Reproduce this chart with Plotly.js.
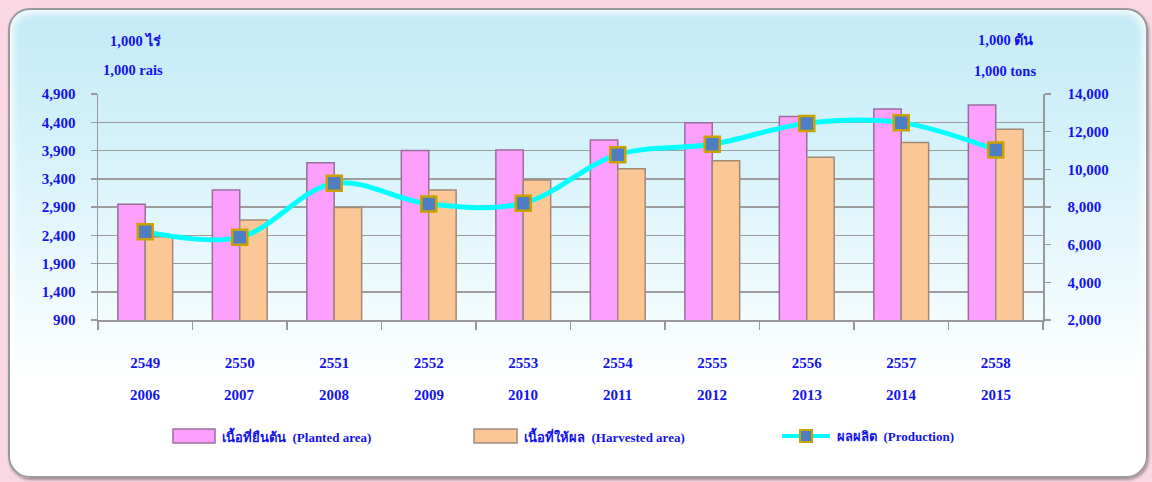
<!DOCTYPE html>
<html>
<head>
<meta charset="utf-8">
<script src="https://cdn.plot.ly/plotly-3.0.1.min.js"></script>
<style>
  html, body { margin:0; padding:0; width:1152px; height:482px; overflow:hidden; background:#f9d8e3; }
  #panel { position:absolute; left:8px; top:8px; width:1136px; height:466px; border-radius:22px;
           border:2px solid #9a9a9a;
           background:linear-gradient(to bottom, #c4eaf6 0%, #d6f2fa 30%, #eefafd 60%, #ffffff 80%, #ffffff 100%);
           box-shadow: inset 0 0 8px 3px rgba(255,255,255,0.95), 1px 2px 3px rgba(0,0,0,0.35); }
  #chart { position:absolute; left:0; top:0; width:1152px; height:482px; }
</style>
</head>
<body>
<div id="panel"></div>
<div id="chart"></div>
<script>
// ---- data ----
const yearsBE = ["2549","2550","2551","2552","2553","2554","2555","2556","2557","2558"];
const yearsAD = ["2006","2007","2008","2009","2010","2011","2012","2013","2014","2015"];
const plantedArea   = [2950, 3200, 3685, 3900, 3910, 4085, 4390, 4500, 4635, 4705];
const harvestedArea = [2375, 2670, 2890, 3200, 3380, 3575, 3720, 3780, 4040, 4275];
const production    = [6690, 6390, 9260, 8160, 8200, 10780, 11330, 12440, 12480, 11030];
const leftTicks  = [900, 1400, 1900, 2400, 2900, 3400, 3900, 4400, 4900];
const rightTicks = [2000, 4000, 6000, 8000, 10000, 12000, 14000];
const seriesNames = ["เนื้อที่ยืนต้น  (Planted area)", "เนื้อที่ให้ผล  (Harvested area)", "ผลผลิต  (Production)"];
const unitLeft  = ["1,000 ไร่", "1,000 rais"];
const unitRight = ["1,000 ตัน", "1,000 tons"];

// ---- styling ----
const BLUE = "#1414ee";
const FONT = "'Liberation Serif', 'Times New Roman', serif";
const fmt = v => v.toLocaleString("en-US");
const L = 98, R = 1043, T = 94, B = 320;
const X = px => (px - L) / (R - L);
const Y = py => (B - py) / (B - T);

const PINK = "#fda0fd", PINK_LINE = "#9a6e9a";
const PEACH = "#fcc797", PEACH_LINE = "#a08a76";

const traces = [
  { type:"bar", name:seriesNames[0], x:yearsBE, y:plantedArea,
    marker:{ color:PINK, line:{ color:PINK_LINE, width:1.5 } }, hoverinfo:"y" },
  { type:"bar", name:seriesNames[1], x:yearsBE, y:harvestedArea,
    marker:{ color:PEACH, line:{ color:PEACH_LINE, width:1.5 } }, hoverinfo:"y" },
  { type:"scatter", mode:"lines+markers", name:seriesNames[2], x:yearsBE, y:production, yaxis:"y2",
    line:{ color:"#00ffff", width:5, shape:"spline", smoothing:1 },
    marker:{ symbol:"square", size:15, color:"#4f7fc2", line:{ color:"#c9a200", width:2.5 } } }
];

const annotations = [];
yearsAD.forEach((y, i) => annotations.push({ xref:"x", yref:"paper", x:i, y:Y(395), text:y, showarrow:false,
  xanchor:"center", yanchor:"middle", font:{ family:FONT, size:15, color:BLUE, weight:"bold" } }));
const unitFont = { family:FONT, size:14.5, color:BLUE, weight:"bold" };
annotations.push({ xref:"paper", yref:"paper", x:X(135), y:Y(40), text:unitLeft[0], showarrow:false,
  xanchor:"center", yanchor:"middle", font:unitFont });
annotations.push({ xref:"paper", yref:"paper", x:X(133), y:Y(70), text:unitLeft[1], showarrow:false,
  xanchor:"center", yanchor:"middle", font:unitFont });
annotations.push({ xref:"paper", yref:"paper", x:X(1005), y:Y(40), text:unitRight[0], showarrow:false,
  xanchor:"center", yanchor:"middle", font:unitFont });
annotations.push({ xref:"paper", yref:"paper", x:X(1005), y:Y(71), text:unitRight[1], showarrow:false,
  xanchor:"center", yanchor:"middle", font:unitFont });

// manual legend
const legTextX = [220, 522, 835];
legTextX.forEach((px, i) => annotations.push({ xref:"paper", yref:"paper", x:X(px), y:Y(436), text:seriesNames[i],
  showarrow:false, xanchor:"left", yanchor:"middle", font:{ family:FONT, size:13, color:BLUE, weight:"bold" } }));

const shapes = [
  { type:"rect", xref:"paper", yref:"paper", x0:X(173), x1:X(215), y0:Y(429), y1:Y(443),
    fillcolor:PINK, line:{ color:PINK_LINE, width:1.5 } },
  { type:"rect", xref:"paper", yref:"paper", x0:X(474), x1:X(517), y0:Y(429), y1:Y(443),
    fillcolor:PEACH, line:{ color:PEACH_LINE, width:1.5 } },
  { type:"line", xref:"paper", yref:"paper", x0:X(782), x1:X(830), y0:Y(436), y1:Y(436),
    line:{ color:"#00ffff", width:4 } },
  { type:"rect", xref:"paper", yref:"paper", x0:X(800), x1:X(812), y0:Y(430), y1:Y(442),
    fillcolor:"#4f7fc2", line:{ color:"#c9a200", width:2 } }
];

const layout = {
  width:1152, height:482,
  margin:{ l:L, r:1152-R, t:T, b:482-B, pad:0 },
  paper_bgcolor:"rgba(0,0,0,0)", plot_bgcolor:"rgba(0,0,0,0)",
  showlegend:false,
  barmode:"group", bargap:0.42, bargroupgap:0,
  font:{ family:FONT, color:BLUE },
  xaxis:{ type:"category", range:[-0.5, yearsBE.length - 0.5], autorange:false,
    tickson:"boundaries", ticks:"outside", ticklen:8, tickcolor:"#999", tickwidth:1.5,
    showgrid:false, showline:true, linecolor:"#999", linewidth:1.5, ticklabelstandoff:28,
    tickfont:{ family:FONT, size:15, color:BLUE, weight:"bold" }, fixedrange:true },
  yaxis:{ range:[900, 4900], tickvals:leftTicks, ticktext:leftTicks.map(fmt),
    showgrid:true, gridcolor:"#9c9c9c", gridwidth:1.5, zeroline:false,
    showline:true, linecolor:"#999", linewidth:1.5, ticks:"outside", ticklen:6, tickcolor:"#999", tickwidth:1.5,
    ticklabelstandoff:12, tickfont:{ family:FONT, size:15, color:BLUE, weight:"bold" }, fixedrange:true },
  yaxis2:{ range:[2000, 14000], tickvals:rightTicks, ticktext:rightTicks.map(fmt), overlaying:"y", side:"right",
    showgrid:false, zeroline:false, showline:true, linecolor:"#999", linewidth:1.5,
    ticks:"outside", ticklen:6, tickcolor:"#999", tickwidth:1.5,
    ticklabelstandoff:14, tickfont:{ family:FONT, size:15, color:BLUE, weight:"bold" }, fixedrange:true },
  annotations, shapes
};

Plotly.newPlot("chart", traces, layout, { displayModeBar:false, staticPlot:true });
</script>
</body>
</html>
